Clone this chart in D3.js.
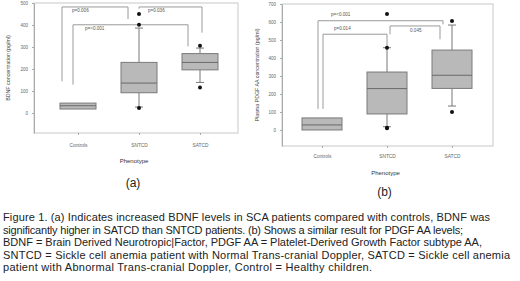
<!DOCTYPE html>
<html>
<head>
<meta charset="utf-8">
<script src="https://cdn.jsdelivr.net/npm/d3@7"></script>
<style>
  body { margin: 0; background: #fff; }
  svg { display: block; font-family: "Liberation Sans", Arial, sans-serif; }
</style>
</head>
<body>
<div id="chart"></div>
<script>
(function() {

    // categories
    var phenotypes = ["Controls", "SNTCD", "SATCD"];

    // panel (a) BDNF, pg/ml
    var bdnfQ1 = [18, 92, 196];
    var bdnfMedian = [33, 136, 230];
    var bdnfQ3 = [45, 230, 270];
    var bdnfLow = [18, 27, 139];
    var bdnfHigh = [45, 386, 295];
    var bdnfOutliers = [[], [450, 401, 23], [306, 116]];
    var bdnfTicks = [0, 100, 200, 300, 400, 500];
    var bdnfPairs = [
        {from: "Controls", to: "SNTCD", top: 482, leftEnd: 144, rightEnd: 427, label: "p=0.006"},
        {from: "SNTCD", to: "SATCD", top: 482, leftEnd: 474, rightEnd: 365, label: "p=0.036"},
        {from: "Controls", to: "SATCD", top: 401, leftEnd: 129, rightEnd: 303, label: "p=<0.001"}
    ];

    // panel (b) PDGF AA, pg/ml
    var pdgfQ1 = [0, 89, 231];
    var pdgfMedian = [28, 230, 304];
    var pdgfQ3 = [67, 322, 444];
    var pdgfLow = [0, 18, 133];
    var pdgfHigh = [67, 457, 583];
    var pdgfOutliers = [[], [644, 457, 13, 9], [606, 100]];
    var pdgfTicks = [0, 100, 200, 300, 400, 500, 600, 700];
    var pdgfPairs = [
        {from: "Controls", to: "SATCD", top: 607, leftEnd: 117, rightEnd: 587, label: "p=<0.001"},
        {from: "Controls", to: "SNTCD", top: 532, leftEnd: 117, rightEnd: 467, label: "p=0.014"},
        {from: "SNTCD", to: "SATCD", top: 578, leftEnd: 532, rightEnd: 504, label: "0.045"}
    ];

    var caption = [
        "Figure 1. (a) Indicates increased BDNF levels in SCA patients compared with controls, BDNF was",
        "significantly higher in SATCD than SNTCD patients. (b) Shows a similar result for PDGF AA levels;",
        "BDNF = Brain Derived Neurotropic|Factor, PDGF AA = Platelet-Derived Growth Factor subtype AA,",
        "SNTCD = Sickle cell anemia patient with Normal Trans-cranial Doppler, SATCD = Sickle cell anemia",
        "patient with Abnormal Trans-cranial Doppler, Control = Healthy children."
    ];
    // rendered width of each caption line in the figure
    var captionWidths = [487, 460, 479, 507, 369];

    var svg = d3.select("#chart").append("svg")
        .attr("width", 520)
        .attr("height", 281);

    function drawPanel(p) {
        var g = svg.append("g");
        var x = d3.scalePoint().domain(phenotypes).range(p.xRange);
        var y = d3.scaleLinear().domain(p.yDomain).range([p.bottom, p.top]);

        // frame
        g.append("rect")
            .attr("x", p.left).attr("y", p.top)
            .attr("width", p.right - p.left).attr("height", p.bottom - p.top)
            .attr("fill", "none").attr("stroke", "#c8c8c8").attr("stroke-width", 1);

        // y axis
        var ya = g.append("g")
            .attr("transform", "translate(" + p.left + ",0)")
            .call(d3.axisLeft(y).tickValues(p.ticks).tickSize(2).tickSizeOuter(0));
        ya.select(".domain").attr("stroke", "#aaa");
        ya.selectAll(".tick line").attr("stroke", "#aaa");
        ya.selectAll("text").attr("fill", "#666").style("font-size", "4.5px").attr("x", -6);

        // x axis
        var xa = g.append("g")
            .attr("transform", "translate(0," + p.bottom + ")")
            .call(d3.axisBottom(x).tickSize(2).tickSizeOuter(0));
        xa.select(".domain").remove();
        xa.selectAll(".tick line").attr("stroke", "#aaa");
        xa.selectAll("text").attr("fill", "#666").style("font-size", "4.8px").attr("y", p.labelGap);

        // brackets
        p.pairs.forEach(function(b, i) {
            var off = p.legOffsets[i];
            var x1 = x(b.from) + off[0], x2 = x(b.to) + off[1];
            g.append("path")
                .attr("d", d3.line()([[x1, y(b.leftEnd)], [x1, y(b.top)], [x2, y(b.top)], [x2, y(b.rightEnd)]]))
                .attr("fill", "none").attr("stroke", "#9a9a9a").attr("stroke-width", 1);
            g.append("text")
                .attr("x", x1 + p.labelPos[i][0])
                .attr("y", y(b.top) + p.labelPos[i][1])
                .attr("fill", "#555").style("font-size", "4.6px")
                .text(b.label);
        });

        // boxes
        phenotypes.forEach(function(c, i) {
            var cx = x(c), w = p.boxWidth;
            g.append("line")
                .attr("x1", cx).attr("x2", cx)
                .attr("y1", y(p.high[i])).attr("y2", y(p.q3[i]))
                .attr("stroke", "#777");
            g.append("line")
                .attr("x1", cx).attr("x2", cx)
                .attr("y1", y(p.q1[i])).attr("y2", y(p.low[i]))
                .attr("stroke", "#777");
            if (p.high[i] > p.q3[i]) {
                g.append("line").attr("x1", cx - 4).attr("x2", cx + 4)
                    .attr("y1", y(p.high[i])).attr("y2", y(p.high[i])).attr("stroke", "#777");
            }
            if (p.low[i] < p.q1[i]) {
                g.append("line").attr("x1", cx - 4).attr("x2", cx + 4)
                    .attr("y1", y(p.low[i])).attr("y2", y(p.low[i])).attr("stroke", "#777");
            }
            g.append("rect")
                .attr("x", cx - w / 2).attr("y", y(p.q3[i]))
                .attr("width", w).attr("height", y(p.q1[i]) - y(p.q3[i]))
                .attr("fill", "#b9b9b9").attr("stroke", "#7a7a7a").attr("stroke-width", 1);
            g.append("line")
                .attr("x1", cx - w / 2).attr("x2", cx + w / 2)
                .attr("y1", y(p.median[i])).attr("y2", y(p.median[i]))
                .attr("stroke", "#6a6a6a").attr("stroke-width", 1);
            g.selectAll(null)
                .data(p.outliers[i])
                .enter().append("circle")
                .attr("cx", cx).attr("cy", function(d) { return y(d); })
                .attr("r", 2).attr("fill", "#111");
        });

        // axis titles
        g.append("text")
            .attr("transform", "translate(" + p.titleX + "," + ((p.top + p.bottom) / 2) + ") rotate(-90)")
            .attr("text-anchor", "middle")
            .attr("fill", "#444").style("font-size", "5.3px")
            .text(p.yTitle);
        g.append("text")
            .attr("x", (p.left + p.right) / 2 - 2).attr("y", p.phenoY)
            .attr("text-anchor", "middle")
            .attr("fill", "#333").style("font-size", "6px")
            .text("Phenotype");
        g.append("text")
            .attr("x", (p.left + p.right) / 2 - 3).attr("y", p.tagY)
            .attr("text-anchor", "middle")
            .attr("fill", "#222").style("font-size", "12px")
            .text(p.tag);
    }

    drawPanel({
        left: 34, right: 238, top: 3, bottom: 133,
        xRange: [78, 200], yDomain: [-91, 500], ticks: bdnfTicks,
        q1: bdnfQ1, median: bdnfMedian, q3: bdnfQ3, low: bdnfLow, high: bdnfHigh,
        outliers: bdnfOutliers, pairs: bdnfPairs,
        legOffsets: [[-16, -11], [0, 2], [-5, -12]],
        labelPos: [[10, 5], [9, 5], [12, 5]],
        boxWidth: 36, labelGap: 11, titleX: 10,
        yTitle: "BDNF concentration (pg/ml)",
        phenoY: 163, tagY: 187, tag: "(a)"
    });

    drawPanel({
        left: 282, right: 493, top: 4, bottom: 146,
        xRange: [322, 452], yDomain: [-89, 700], ticks: pdgfTicks,
        q1: pdgfQ1, median: pdgfMedian, q3: pdgfQ3, low: pdgfLow, high: pdgfHigh,
        outliers: pdgfOutliers, pairs: pdgfPairs,
        legOffsets: [[-4, -9], [1, 0], [3, -12]],
        labelPos: [[13, -5], [11, -4], [20, 6]],
        boxWidth: 40, labelGap: 9, titleX: 259,
        yTitle: "Plasma PDGF AA concentration (pg/ml)",
        phenoY: 175, tagY: 196, tag: "(b)"
    });

    // caption
    svg.append("g").selectAll("text")
        .data(caption)
        .enter().append("text")
        .attr("x", 3)
        .attr("y", function(d, i) { return 221 + i * 12.6; })
        .attr("fill", "#222")
        .style("font-size", "11px")
        .attr("textLength", function(d, i) { return captionWidths[i]; })
        .attr("lengthAdjust", "spacing")
        .text(function(d) { return d; });

})();
</script>
</body>
</html>
